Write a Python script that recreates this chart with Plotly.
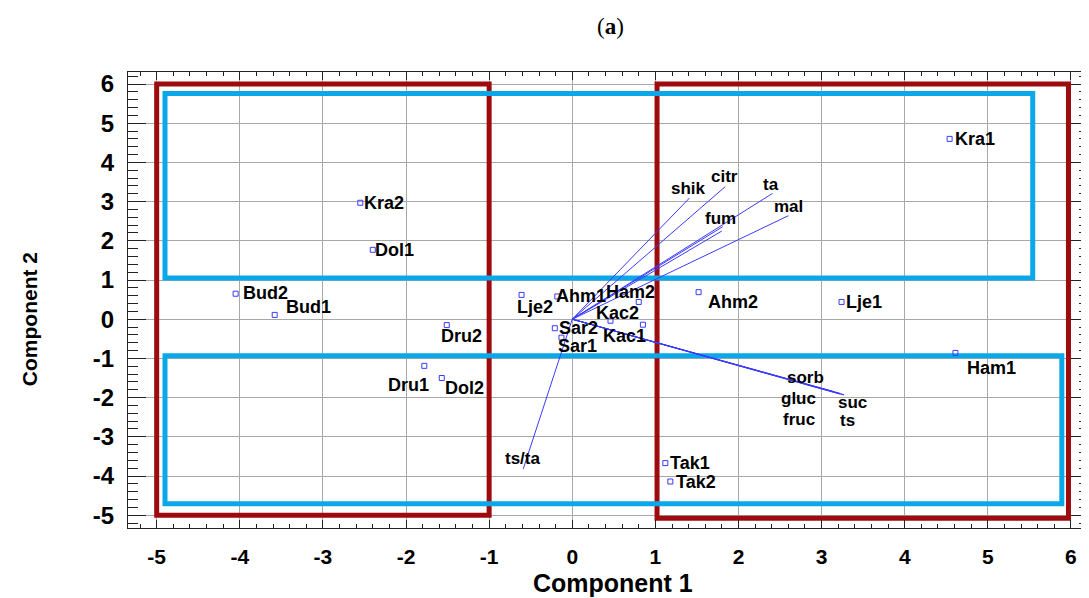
import plotly.graph_objects as go

# ---- data -----------------------------------------------------------------
point_names = ["Kra1", "Kra2", "Dol1", "Bud2", "Bud1", "Dru2", "Dru1", "Dol2",
               "Lje2", "Ahm1", "Ham2", "Kac2", "Sar2", "Kac1", "Sar1", "Ahm2",
               "Lje1", "Ham1", "Tak1", "Tak2"]
point_x = [4.54, -2.55, -2.40, -4.05, -3.58, -1.51, -1.78, -1.57,
           -0.61, -0.18, 0.80, 0.46, -0.21, 0.85, -0.13, 1.52,
           3.24, 4.61, 1.12, 1.18]
point_y = [4.60, 2.97, 1.77, 0.65, 0.11, -0.15, -1.19, -1.50,
           0.62, 0.58, 0.44, -0.04, -0.23, -0.14, -0.47, 0.69,
           0.44, -0.86, -3.67, -4.14]

vector_names = ["shik", "citr", "ta", "fum", "", "mal", "ts/ta",
                "sorb", "gluc", "fruc", "suc", "ts"]
vector_x = [1.41, 1.84, 2.41, 1.81, 1.80, 2.60, -0.59,
            3.15, 3.22, 3.22, 3.27, 3.27]
vector_y = [3.09, 3.38, 3.21, 2.36, 2.25, 2.64, -3.82,
            -1.85, -1.89, -1.91, -1.93, -1.93]

# rectangles (x0, x1, y0, y1)
red_rects = [(-5.0, -1.0, -5.0, 6.0), (1.02, 5.97, -5.08, 6.0)]
cyan_rects = [(-4.9, 5.54, 1.05, 5.76), (-4.9, 5.89, -4.71, -0.93)]

x_ticks = [-5, -4, -3, -2, -1, 0, 1, 2, 3, 4, 5, 6]
y_ticks = [-5, -4, -3, -2, -1, 0, 1, 2, 3, 4, 5, 6]

# ---- label placement (pixel shifts, styling only) ---------------------------
point_shift = {
    "Kra1": (25, 0), "Kra2": (24, 0), "Dol1": (22, 0), "Bud2": (30, 1),
    "Bud1": (34, 8), "Dru2": (15, -11), "Dru1": (-16, -19), "Dol2": (23, -10),
    "Lje2": (13, -12), "Ahm1": (24, 0), "Ham2": (-8, 10), "Kac2": (7, 8),
    "Sar2": (24, 0), "Kac1": (-18, -11), "Sar1": (16, -8), "Ahm2": (34, -10),
    "Lje1": (22, 0), "Ham1": (36, -15), "Tak1": (25, 0), "Tak2": (26, 0),
}
vector_shift = {
    "shik": (-1, 10), "citr": (-1, 10), "ta": (-2, 9), "fum": (-2, 8),
    "mal": (0, 9), "ts/ta": (0, 10), "sorb": (-29, 14), "gluc": (-41, -5),
    "fruc": (-41, -25), "suc": (8, -8), "ts": (3, -26),
}

BLUE = "#3B3BFF"
RED = "#9E0B0F"
CYAN = "#0AA8E8"
FONT = "Liberation Sans, Arial, sans-serif"

fig = go.Figure()

# vectors from origin
vx, vy = [], []
for x, y in zip(vector_x, vector_y):
    vx += [0, x, None]
    vy += [0, y, None]
fig.add_trace(go.Scatter(x=vx, y=vy, mode="lines",
                         line=dict(color=BLUE, width=1), hoverinfo="skip",
                         showlegend=False))

# points
fig.add_trace(go.Scatter(x=point_x, y=point_y, mode="markers",
                         marker=dict(symbol="square-open", size=5, color=BLUE,
                                     line=dict(width=1, color=BLUE)),
                         text=point_names, showlegend=False))

annotations = []
for n, x, y in zip(point_names, point_x, point_y):
    dx, dy = point_shift[n]
    annotations.append(dict(x=x, y=y, xref="x", yref="y", text=n, showarrow=False,
                            xshift=dx, yshift=dy, xanchor="center", yanchor="middle",
                            font=dict(family=FONT, size=18, color="black", weight="bold")))
for n, x, y in zip(vector_names, vector_x, vector_y):
    if not n:
        continue
    dx, dy = vector_shift[n]
    annotations.append(dict(x=x, y=y, xref="x", yref="y", text=n, showarrow=False,
                            xshift=dx, yshift=dy, xanchor="center", yanchor="middle",
                            font=dict(family=FONT, size=17, color="black", weight="bold")))

# titles
annotations.append(dict(x=0.5016, y=1.0987, xref="paper", yref="paper",
                        text="(<b>a</b>)", showarrow=False, xanchor="center", yanchor="middle",
                        font=dict(family="Liberation Serif, serif", size=23, color="black")))
annotations.append(dict(x=0.5047, y=-0.1215, xref="paper", yref="paper",
                        text="Component 1", showarrow=False, xanchor="center", yanchor="middle",
                        font=dict(family=FONT, size=25, color="black", weight="bold")))
annotations.append(dict(x=-0.103, y=0.458, xref="paper", yref="paper",
                        text="Component 2", showarrow=False, textangle=-90,
                        xanchor="center", yanchor="middle",
                        font=dict(family=FONT, size=21, color="black", weight="bold")))

shapes = []
for (x0, x1, y0, y1) in red_rects:
    shapes.append(dict(type="rect", xref="x", yref="y", x0=x0, x1=x1, y0=y0, y1=y1,
                       line=dict(color=RED, width=5), layer="between"))
for (x0, x1, y0, y1) in cyan_rects:
    shapes.append(dict(type="rect", xref="x", yref="y", x0=x0, x1=x1, y0=y0, y1=y1,
                       line=dict(color=CYAN, width=5), layer="between"))

# page body has an 8px default margin, so the figure is sized/offset to compensate
fig.update_layout(
    width=1081, height=590,
    margin=dict(l=120, r=0, t=64, b=70),
    paper_bgcolor="white", plot_bgcolor="white",
    annotations=annotations, shapes=shapes,
    showlegend=False,
    xaxis=dict(range=[-5.345, 6.217], tickvals=x_ticks,
               ticktext=[str(t) for t in x_ticks],
               showgrid=True, gridcolor="#A8A8A8", gridwidth=1, zeroline=False,
               showline=True, linecolor="#222", linewidth=1, mirror="ticks",
               ticks="inside", ticklen=8, tickcolor="#222",
               minor=dict(ticks="inside", ticklen=4, dtick=0.2, tick0=0,
                          tickcolor="#222", showgrid=False),
               tickfont=dict(family=FONT, size=21, color="black", weight="bold"),
               ticklabelstandoff=10),
    yaxis=dict(range=[-5.326, 6.306], tickvals=y_ticks,
               ticktext=[str(t) for t in y_ticks],
               showgrid=True, gridcolor="#A8A8A8", gridwidth=1, zeroline=False,
               showline=True, linecolor="#222", linewidth=1, mirror="ticks",
               ticks="inside", ticklen=18, tickcolor="#222",
               minor=dict(ticks="inside", ticklen=10, dtick=0.2, tick0=0,
                          tickcolor="#222", showgrid=False),
               tickfont=dict(family=FONT, size=24, color="black", weight="bold"),
               ticklabelstandoff=8),
)

fig.write_html("out.html")
